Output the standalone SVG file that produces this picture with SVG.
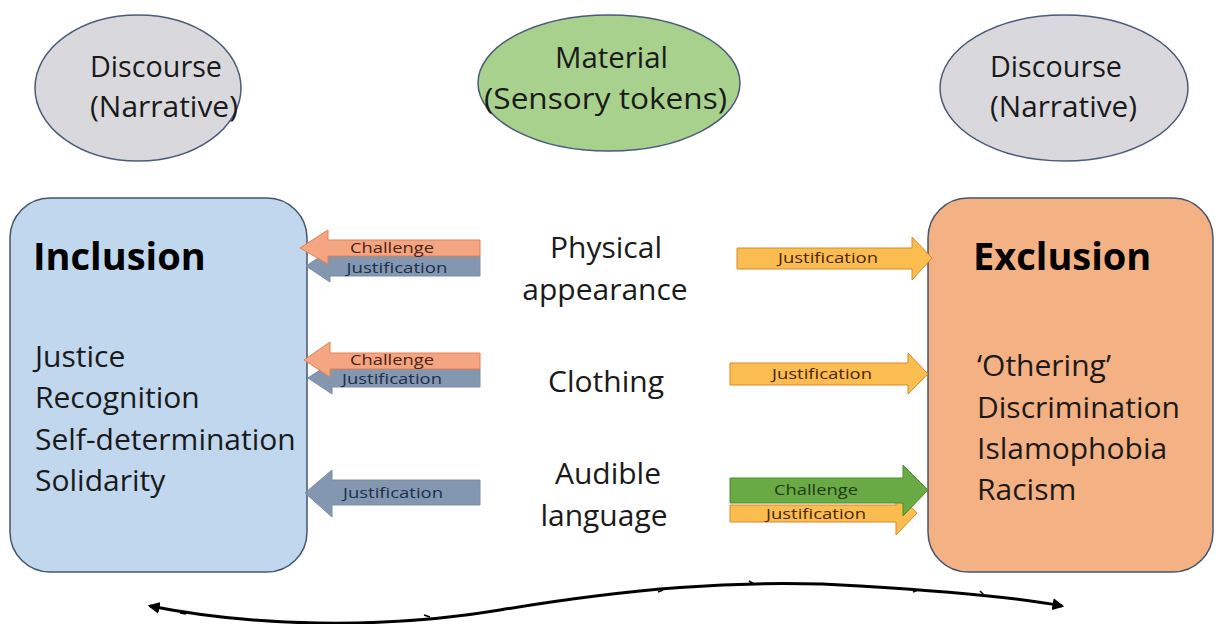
<svg xmlns="http://www.w3.org/2000/svg" width="1218" height="624" viewBox="0 0 1218 624">
<defs>
<style>
text{font-family:"Open Sans",Lato,"Liberation Sans",sans-serif;fill:#1a1a1a}
.el{stroke:#4a5a7a;stroke-width:1.5}
.big{font-size:30px}
.head{font-size:38px;font-weight:bold;fill:#000}
.lbl{font-size:14px;text-anchor:middle}
.mid{text-anchor:middle}
.ch{fill:#f4a582;stroke:#e88050;stroke-width:1}
.jb{fill:#8497b0;stroke:#7a8ca6;stroke-width:1}
.jo{fill:#fbbd4f;stroke:#d9892a;stroke-width:1}
.cg{fill:#6aaa45;stroke:#4e8a30;stroke-width:1}
</style>
<marker id="ah" viewBox="0 0 10 10" refX="8" refY="5" markerWidth="4" markerHeight="4" orient="auto-start-reverse"><path d="M0,0 L10,5 L0,10 z" fill="#000"/></marker>
</defs>
<rect width="1218" height="624" fill="#fff"/>

<g id="discourse-left">
<ellipse class="el" cx="138" cy="88" rx="103" ry="73" fill="#d9d9dd"/>
<text class="big" x="90" y="77" textLength="132" lengthAdjust="spacingAndGlyphs">Discourse</text>
<text class="big" x="90" y="117" textLength="148" lengthAdjust="spacingAndGlyphs">(Narrative)</text>
</g>
<g id="material">
<ellipse class="el" cx="609" cy="83" rx="131" ry="68" fill="#a9d18e"/>
<text class="big" x="555" y="68" textLength="113" lengthAdjust="spacingAndGlyphs">Material</text>
<text class="big" x="484" y="109" textLength="243" lengthAdjust="spacingAndGlyphs">(Sensory tokens)</text>
</g>
<g id="discourse-right">
<ellipse class="el" cx="1064" cy="88" rx="124" ry="73" fill="#d9d9dd"/>
<text class="big" x="990" y="77" textLength="132" lengthAdjust="spacingAndGlyphs">Discourse</text>
<text class="big" x="990" y="117" textLength="147" lengthAdjust="spacingAndGlyphs">(Narrative)</text>
</g>

<g id="inclusion">
<rect x="10" y="198" width="297" height="374" rx="40" fill="#c0d7ee" stroke="#44556f" stroke-width="1.5"/>
<text class="head" x="33" y="270">Inclusion</text>
<text class="big" x="35" y="367">Justice</text>
<text class="big" x="35" y="408">Recognition</text>
<text class="big" x="35" y="450">Self-determination</text>
<text class="big" x="35" y="491">Solidarity</text>
</g>
<g id="exclusion">
<rect x="928" y="198" width="285" height="374" rx="40" fill="#f4b183" stroke="#44556f" stroke-width="1.5"/>
<text class="head" x="973" y="270">Exclusion</text>
<text class="big" x="977" y="376">‘Othering’</text>
<text class="big" x="977" y="418">Discrimination</text>
<text class="big" x="977" y="459">Islamophobia</text>
<text class="big" x="977" y="500">Racism</text>
</g>

<g id="tokens">
<text class="big mid" x="606" y="258">Physical</text>
<text class="big mid" x="605" y="300">appearance</text>
<text class="big mid" x="606" y="392">Clothing</text>
<text class="big mid" x="608" y="484">Audible</text>
<text class="big mid" x="604" y="526">language</text>
</g>

<g id="connectors">
<!-- row 1 left -->
<polygon class="jb" points="480,256 330,256 330,250 306,266 330,282 330,276 480,276"/>
<polygon class="ch" points="480,240 328,240 328,230 300,248 328,264 328,256 480,256"/>
<text class="lbl" x="392" y="253" textLength="84" lengthAdjust="spacingAndGlyphs" style="fill:#4a2418">Challenge</text>
<text class="lbl" x="397" y="273" textLength="101" lengthAdjust="spacingAndGlyphs" style="fill:#1f2d4a">Justification</text>
<!-- row 2 left -->
<polygon class="jb" points="480,369 332,369 332,362 308,378 332,394 332,387 480,387"/>
<polygon class="ch" points="480,353 330,353 330,342 304,360 330,377 330,369 480,369"/>
<text class="lbl" x="392" y="365" textLength="84" lengthAdjust="spacingAndGlyphs" style="fill:#4a2418">Challenge</text>
<text class="lbl" x="392" y="384" textLength="100" lengthAdjust="spacingAndGlyphs" style="fill:#1f2d4a">Justification</text>
<!-- row 3 left -->
<polygon class="jb" points="480,480 332,480 332,470 305,493 332,517 332,505 480,505"/>
<text class="lbl" x="393" y="498" textLength="100" lengthAdjust="spacingAndGlyphs" style="fill:#1f2d4a">Justification</text>
<!-- row 1 right -->
<polygon class="jo" points="737,248 912,248 912,237 932,258 912,280 912,269 737,269"/>
<text class="lbl" x="828" y="263" textLength="100" lengthAdjust="spacingAndGlyphs" style="fill:#4a2418">Justification</text>
<!-- row 2 right -->
<polygon class="jo" points="730,363 908,363 908,353 928,374 908,394 908,385 730,385"/>
<text class="lbl" x="822" y="379" textLength="100" lengthAdjust="spacingAndGlyphs" style="fill:#4a2418">Justification</text>
<!-- row 3 right -->
<polygon class="jo" points="730,505 896,505 896,491 917,513 896,535 896,522 730,522"/>
<polygon class="cg" points="730,478 903,478 903,465 928,490 903,516 903,503 730,503"/>
<text class="lbl" x="816" y="495" textLength="84" lengthAdjust="spacingAndGlyphs" style="fill:#1f3a14">Challenge</text>
<text class="lbl" x="816" y="519" textLength="100" lengthAdjust="spacingAndGlyphs" style="fill:#4a2418">Justification</text>
<!-- bottom spectrum line -->
<path d="M150,606 C250,626 380,630 500,610 C620,590 740,578 860,586 C960,592 1020,598 1062,606" fill="none" stroke="#000" stroke-width="3" marker-start="url(#ah)" marker-end="url(#ah)"/>
<g stroke="#000" stroke-width="1.5" fill="none">
<path d="M186,614 l-6,-1"/>
<path d="M430,617 l-6,-2"/>
<path d="M663,590 l-5,2"/>
<path d="M754,584 l-5,-3"/>
<path d="M918,590 l-5,2"/>
<path d="M984,595 l-4,-4"/>
</g>
</g>
</svg>
